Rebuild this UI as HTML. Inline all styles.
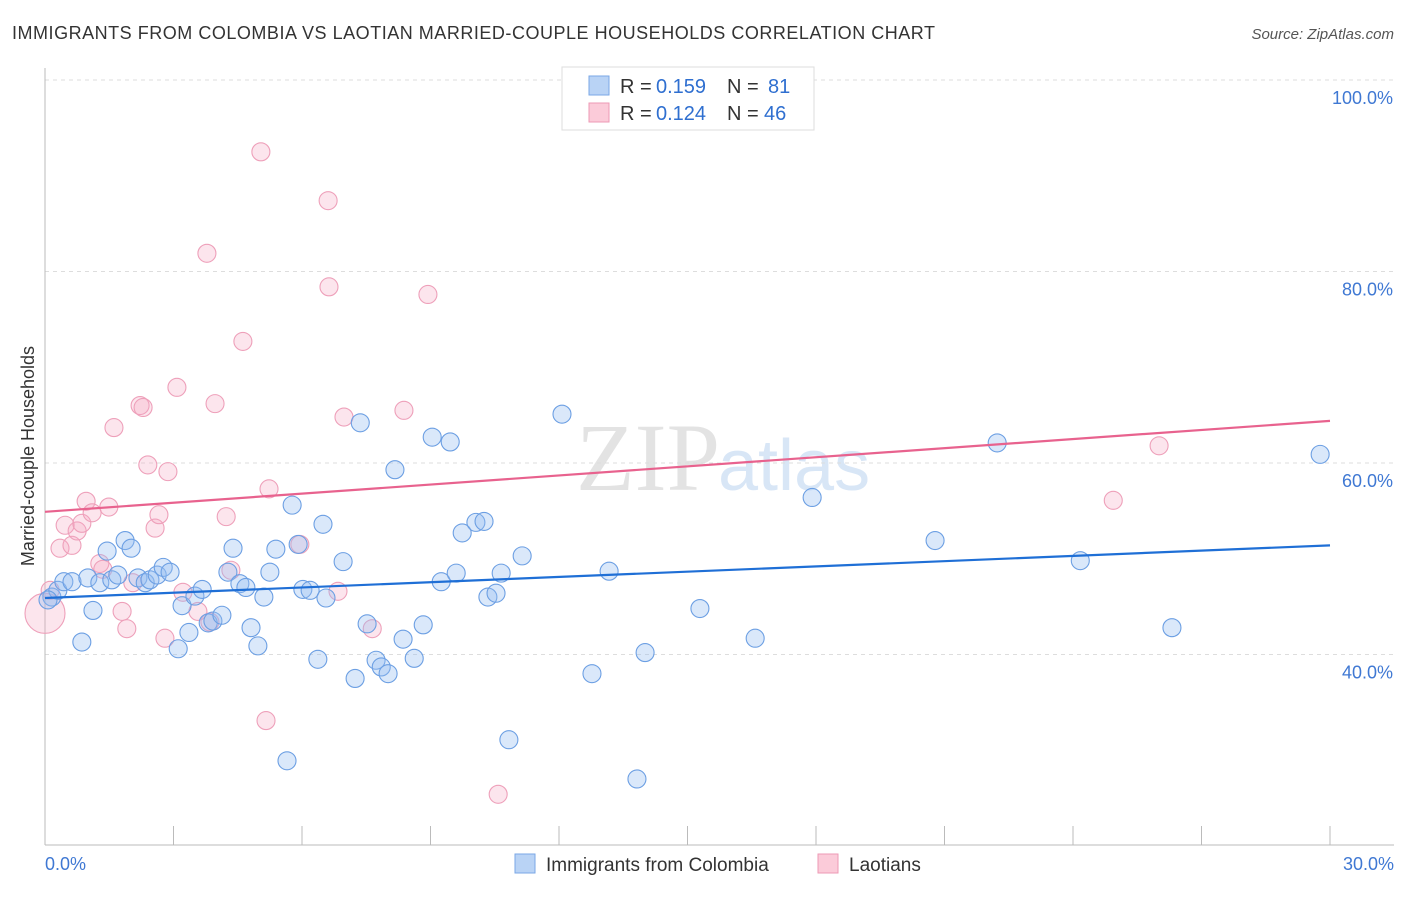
<!DOCTYPE html>
<html><head><meta charset="utf-8"><style>
body{margin:0;background:#fff;font-family:"Liberation Sans",sans-serif;}
</style></head><body>
<svg id="chart" width="1406" height="892" xmlns="http://www.w3.org/2000/svg">
<text x="12" y="39" font-size="18" fill="#333" textLength="923" lengthAdjust="spacing">IMMIGRANTS FROM COLOMBIA VS LAOTIAN MARRIED-COUPLE HOUSEHOLDS CORRELATION CHART</text>
<text x="1394" y="39" font-size="15" fill="#555" font-style="italic" text-anchor="end">Source: ZipAtlas.com</text>
<text x="720" y="490" font-size="96" font-family="Liberation Serif,serif" fill="#ddd" text-anchor="end" opacity="0.8">ZIP</text>
<text x="718" y="490" font-size="72" fill="#cfe0f5" opacity="0.8">atlas</text>
<text transform="translate(34,456) rotate(-90)" font-size="18" fill="#333" text-anchor="middle">Married-couple Households</text>
<g id="grid"></g><g id="axes"></g><g id="pts"></g><g id="lines"></g>
<g>
<rect x="562" y="67" width="252" height="63" fill="#fff" stroke="#ddd"/>
<rect x="589" y="76" width="20" height="19" fill="#b9d3f5" stroke="#7aa7e6"/>
<text x="620" y="93" font-size="20" fill="#333">R = </text>
<text x="656" y="93" font-size="20" fill="#2f6fd0">0.159</text>
<text x="727" y="93" font-size="20" fill="#333">N =</text>
<text x="768" y="93" font-size="20" fill="#2f6fd0">81</text>
<rect x="589" y="103" width="20" height="19" fill="#fbcbd9" stroke="#ee9ab5"/>
<text x="620" y="120" font-size="20" fill="#333">R = </text>
<text x="656" y="120" font-size="20" fill="#2f6fd0">0.124</text>
<text x="727" y="120" font-size="20" fill="#333">N =</text>
<text x="764" y="120" font-size="20" fill="#2f6fd0">46</text>
</g>
<g>
<rect x="515" y="854" width="20" height="19" fill="#b9d3f5" stroke="#7aa7e6"/>
<text x="546" y="871" font-size="19" fill="#333">Immigrants from Colombia</text>
<rect x="818" y="854" width="20" height="19" fill="#fbcbd9" stroke="#ee9ab5"/>
<text x="849" y="871" font-size="19" fill="#333">Laotians</text>
</g>
</svg>
<script>
const blueX=[0.16,0.30,0.44,0.63,0.86,1.00,1.12,1.28,1.45,1.56,1.70,1.87,2.01,2.17,2.34,2.45,2.62,2.76,2.92,3.11,3.20,3.36,3.50,3.67,3.81,3.92,4.13,4.27,4.39,4.55,4.69,4.81,4.97,5.11,5.25,5.39,5.77,5.91,6.02,6.19,6.37,6.49,6.56,6.96,7.24,7.36,7.52,7.73,7.85,8.01,8.17,8.36,8.62,8.83,9.04,9.25,9.46,9.60,9.74,10.06,10.25,10.34,10.53,10.65,10.83,11.14,12.07,12.77,13.17,13.82,14.01,15.29,16.58,17.91,20.78,22.23,24.17,26.31,29.77,5.65,0.07];
const blueY=[46.0,46.7,47.6,47.6,41.3,48.0,44.6,47.5,50.8,47.8,48.3,51.9,51.1,48.0,47.5,47.8,48.3,49.1,48.6,40.6,45.1,42.3,46.1,46.8,43.3,43.5,44.1,48.6,51.1,47.4,47.0,42.8,40.9,46.0,48.6,51.0,55.6,51.5,46.8,46.7,39.5,53.6,45.9,49.7,37.5,64.2,43.2,39.4,38.7,38.0,59.3,41.6,39.6,43.1,62.7,47.6,62.2,48.5,52.7,53.8,53.9,46.0,46.4,48.5,31.1,50.3,65.1,38.0,48.7,27.0,40.2,44.8,41.7,56.4,51.9,62.1,49.8,42.8,60.9,28.9,45.7];
const pinkX=[0.0,0.12,0.35,0.47,0.63,0.75,0.86,0.96,1.10,1.28,1.35,1.49,1.61,1.80,1.91,2.05,2.22,2.29,2.40,2.57,2.66,2.80,2.87,3.08,3.22,3.57,3.78,3.97,4.23,4.34,4.62,5.04,5.16,5.23,5.95,6.61,6.63,6.84,6.98,7.64,8.38,8.94,10.58,24.94,26.01,3.85];
const pinkY=[44.3,46.7,51.1,53.5,51.4,52.9,53.7,56.0,54.8,49.5,48.9,55.4,63.7,44.5,42.7,47.5,66.0,65.8,59.8,53.2,54.6,41.7,59.1,67.9,46.5,44.5,81.9,66.2,54.4,48.8,72.7,92.5,33.1,57.3,51.5,87.4,78.4,46.6,64.8,42.7,65.5,77.6,25.4,56.1,61.8,43.4];
const blueTrend=[45.9,51.4];
const pinkTrend=[54.9,64.4];
const yTicks=[100,80,60,40];
const xTickVals=[0,3,6,9,12,15,18,21,24,27,30];
const NS="http://www.w3.org/2000/svg";
const X=v=>45+v/30*1285;
const Y=v=>80+(100-v)*9.575;
function mk(tag,attrs,parent){const e=document.createElementNS(NS,tag);for(const k in attrs)e.setAttribute(k,attrs[k]);parent.appendChild(e);return e;}
const grid=document.getElementById('grid'),axes=document.getElementById('axes'),pts=document.getElementById('pts'),lines=document.getElementById('lines');
yTicks.forEach(v=>{
 const l=mk('line',{x1:45,x2:1394,y1:Y(v),y2:Y(v),stroke:'#ddd','stroke-dasharray':'4,4'},grid);
 
 
 const t=mk('text',{x:1393,y:Y(v)+24,'font-size':18,fill:'#3f78d3','text-anchor':'end'},grid);
 t.textContent=v.toFixed(1)+'%';
 
 
});
let a=mk('line',{x1:45,x2:45,y1:68,y2:845,stroke:'#bbb'},axes);


a=mk('line',{x1:45,x2:1394,y1:845,y2:845,stroke:'#bbb'},axes);


xTickVals.forEach(v=>{
 const l=mk('line',{x1:X(v),x2:X(v),y1:826,y2:845,stroke:'#bbb'},axes);
 
 
});
[[0,'start'],[30,'end']].forEach(([v,an])=>{
 const t=mk('text',{x:v==0?45:1394,y:870,'font-size':18,fill:'#3f78d3','text-anchor':an},axes);
 t.textContent=v.toFixed(1)+'%';
 
 
});
pinkX.forEach((x,i)=>{
 const c=mk('circle',{cx:X(x),cy:Y(pinkY[i]),r:i==0?20:9,fill:'rgba(246,170,196,0.3)',stroke:'#eea0ba','stroke-width':1.1},pts);
 
 
});
blueX.forEach((x,i)=>{
 const c=mk('circle',{cx:X(x),cy:Y(blueY[i]),r:9,fill:'rgba(150,190,240,0.35)',stroke:'#6c9fe3','stroke-width':1.1},pts);
 
 
});
let tl=mk('line',{x1:X(0),x2:X(30),y1:Y(blueTrend[0]),y2:Y(blueTrend[1]),stroke:'#1f6fd6','stroke-width':2.2},lines);


tl=mk('line',{x1:X(0),x2:X(30),y1:Y(pinkTrend[0]),y2:Y(pinkTrend[1]),stroke:'#e8628e','stroke-width':2.2},lines);


</script>
</body></html>
